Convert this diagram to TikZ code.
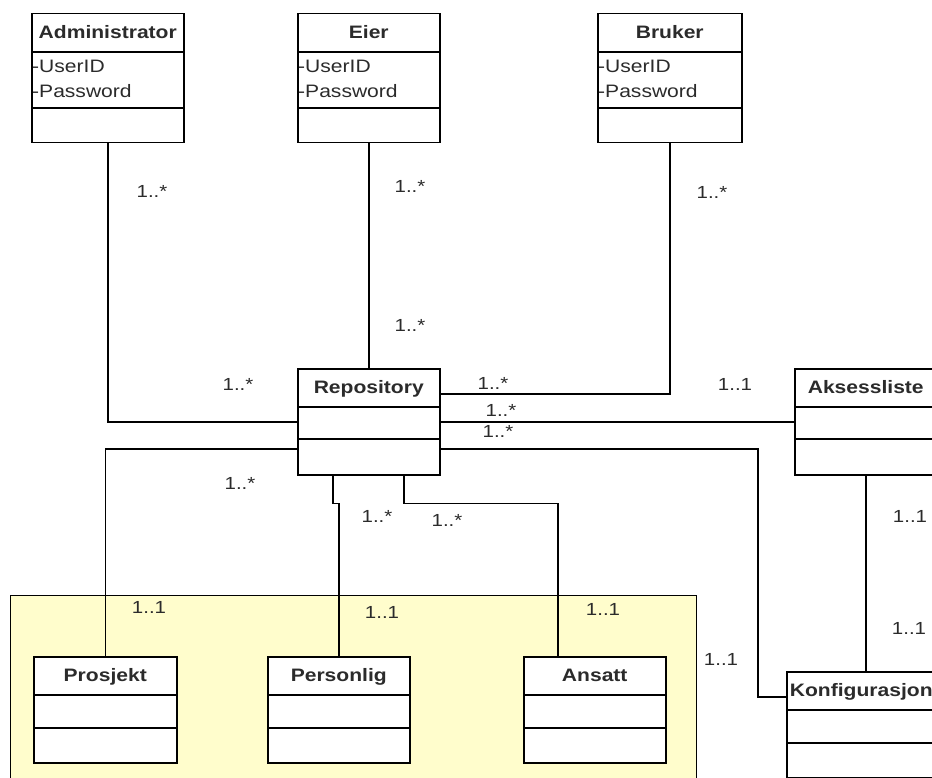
\documentclass[tikz,border=0pt]{standalone}
\usepackage{fontspec}
\setmainfont[FakeStretch=1.17]{Liberation Sans}
\usepackage{xcolor}
\usetikzlibrary{calc,positioning}

\definecolor{pakkegul}{HTML}{FFFDCC}
\definecolor{tekstgraa}{HTML}{2B2B2B}

% klasseboks: navn, (x,y) oppe til venstre, bredde, hoyde attributtdel, total hoyde, tittel
\newcommand{\umlklasse}[6]{%
  \node[klasse, minimum width=#3pt, minimum height=#5pt] (#1) at #2 {};
  \node[tittel] (#1-tittel) at ($(#1.north)+(0,25.5)$) {#6};
  \draw[skille] ($(#1.north west)+(0,39)$) -- ($(#1.north east)+(0,39)$);
  \draw[skille] ($(#1.north west)+(0,39+#4)$) -- ($(#1.north east)+(0,39+#4)$);
}

\begin{document}
\begin{tikzpicture}[x=1pt,y=-1pt,
  klasse/.style={draw, line width=1.5pt, fill=white, inner sep=0pt, anchor=north west},
  skille/.style={line width=1.5pt},
  tittel/.style={anchor=base, inner sep=0pt, text=tekstgraa, font=\fontsize{18}{20}\selectfont\bfseries},
  attrib/.style={anchor=base west, inner sep=0pt, text=tekstgraa, font=\fontsize{18}{20}\selectfont},
  mult/.style={inner sep=0pt, text=tekstgraa, font=\fontsize{17.5}{19}\selectfont},
  forb/.style={line width=1.5pt},
  pakke/.style={draw, line width=1.3pt, fill=pakkegul, inner sep=0pt, anchor=north west}]

	\useasboundingbox (0,0) rectangle (932,778);
	\clip (0,0) rectangle (932,778);

	% pakken bak de tre undertypene
	\node[pakke, minimum width=686pt, minimum height=220pt] (pakke) at (10,595) {};

	% klassene
	\umlklasse{admin}{(31,13)}{152}{56}{129}{Administrator}
	\umlklasse{eier}{(297,13)}{142}{56}{129}{Eier}
	\umlklasse{bruker}{(597,13)}{144}{56}{129}{Bruker}
	\umlklasse{repo}{(297,368)}{142}{32}{106}{Repository}
	\umlklasse{akses}{(794,368)}{142}{32}{106}{Aksessliste}
	\umlklasse{prosjekt}{(33,656)}{143}{33}{106}{Prosjekt}
	\umlklasse{personlig}{(267,656)}{142}{33}{106}{Personlig}
	\umlklasse{ansatt}{(523,656)}{142}{33}{106}{Ansatt}
	\umlklasse{konfig}{(786,671)}{149}{33}{106}{Konfigurasjon}

	\foreach \k in {admin,eier,bruker} {
		\node[attrib] (\k-id) at ($(\k.north west)+(1,60)$) {-UserID};
		\node[attrib] (\k-pw) at ($(\k.north west)+(1,85)$) {-Password};
	}

	% forbindelser
	\draw[forb] (admin.south) |- (repo.west);
	\draw[forb] (eier.south) -- (repo.north);
	\draw[forb] (bruker.south) |- ($(repo.north east)+(0,26)$);
	\draw[forb] (repo.east) -- (akses.west);
	\draw[forb] ($(repo.west)+(0,27)$) -| (prosjekt.north);
	\draw[forb] ($(repo.south)+(-36,0)$) -- ($(repo.south)+(-36,28)$) -| (personlig.north);
	\draw[forb] ($(repo.south)+(35,0)$) -- ($(repo.south)+(35,28)$) -| ($(ansatt.north west)+(35,0)$);
	\draw[forb] ($(repo.east)+(0,27)$) -| ($(konfig.north west)+(-28,26)$) -- ($(konfig.north west)+(0,26)$);
	\draw[forb] (akses.south) -- (akses.south |- konfig.north);

	% multiplisiteter
	\foreach \x/\y/\t [count=\i] in {152/191/1..*, 410/186/1..*, 410/325/1..*, 712/192/1..*,
		238/384/1..*, 493/383/1..*, 501/410/1..*, 498/431/1..*, 240/483/1..*, 377/516/1..*, 447/520/1..*,
		735/384/1..1, 910/516/1..1, 149/607/1..1, 382/612/1..1, 603/609/1..1, 721/659/1..1, 909/628/1..1}
		\node[mult] (mult\i) at (\x,\y) {\t};
\end{tikzpicture}
\end{document}
